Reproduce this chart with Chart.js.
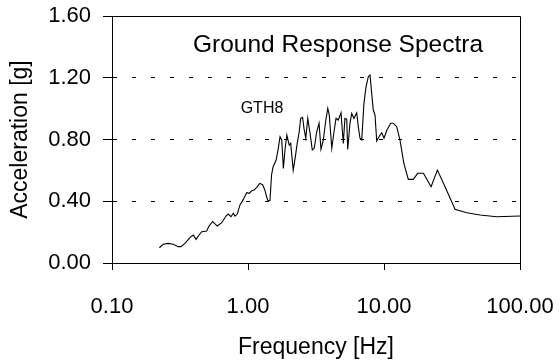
<!DOCTYPE html>
<html>
<head>
<meta charset="utf-8">
<script src="https://cdn.jsdelivr.net/npm/chart.js@4"></script>
<style>
  html,body{margin:0;padding:0;background:#fff;}
  #wrap{width:560px;height:364px;}
</style>
</head>
<body>
<div id="wrap"><canvas id="spectra"></canvas></div>
<script>
// Ground response spectra, record GTH8
const freqHz=[0.223,0.238,0.259,0.282,0.307,0.321,0.344,0.375,0.396,0.415,0.431,0.457,0.497,0.517,0.550,0.572,0.594,0.641,0.689,0.716,0.750,0.780,0.802,0.834,0.873,0.924,0.978,1.02,1.065,1.11,1.16,1.22,1.28,1.33,1.37,1.40,1.45,1.49,1.53,1.61,1.67,1.72,1.77,1.82,1.87,1.93,2.01,2.06,2.15,2.22,2.30,2.38,2.44,2.52,2.58,2.66,2.75,2.86,2.97,3.07,3.20,3.33,3.44,3.58,3.72,3.86,3.96,4.13,4.29,4.44,4.61,4.83,5.02,5.16,5.32,5.41,5.62,5.79,6.01,6.30,6.47,6.66,6.86,7.12,7.38,7.67,7.89,8.12,8.34,8.59,8.84,9.19,9.62,10.0,10.5,11.2,11.7,12.4,13.1,14.0,15.1,16.4,17.7,19.5,22.2,24.7,28.1,33.3,40.6,50.8,67.4,100];
const accelG=[0.099,0.121,0.127,0.121,0.106,0.106,0.127,0.166,0.181,0.153,0.175,0.203,0.207,0.240,0.268,0.253,0.240,0.261,0.304,0.317,0.300,0.322,0.304,0.317,0.376,0.412,0.455,0.451,0.468,0.473,0.490,0.516,0.507,0.473,0.429,0.403,0.403,0.57,0.624,0.667,0.743,0.818,0.797,0.613,0.732,0.829,0.764,0.775,0.602,0.678,0.775,0.850,0.937,0.943,0.872,0.808,0.937,0.840,0.732,0.743,0.850,0.905,0.736,0.797,0.915,1.002,0.958,0.743,0.850,0.937,0.926,0.973,0.775,0.937,0.930,0.736,0.905,0.969,0.937,0.973,0.883,0.808,0.797,1.034,1.142,1.207,1.218,1.099,0.991,0.958,0.790,0.818,0.844,0.808,0.861,0.905,0.905,0.883,0.797,0.646,0.542,0.542,0.581,0.581,0.494,0.602,0.494,0.348,0.326,0.311,0.300,0.304];
const xTicks=[0.1,1,10,100];
const yTicks=[0,0.4,0.8,1.2,1.6];

const FONT="'Liberation Sans', Arial, sans-serif";

// frame + text labels inside the plot
const extras={
  id:'extras',
  afterDraw(chart){
    const c=chart.ctx, a=chart.chartArea;
    c.save();
    c.strokeStyle='#000'; c.lineWidth=1;
    c.beginPath();
    c.moveTo(a.left,a.top+0.5); c.lineTo(a.right+0.5,a.top+0.5); c.lineTo(a.right+0.5,a.bottom);
    c.stroke();
    c.fillStyle='#000'; c.textBaseline='middle'; c.textAlign='center';
    c.font='24.5px '+FONT;
    c.fillText('Ground Response Spectra',338,45);
    c.font='16px '+FONT;
    c.fillText('GTH8',262,109);
    c.restore();
  }
};

new Chart(document.getElementById('spectra'),{
  type:'line',
  data:{datasets:[{
    data:freqHz.map((f,i)=>({x:f,y:accelG[i]})),
    borderColor:'#000', borderWidth:1.1, pointRadius:0, tension:0, fill:false
  }]},
  options:{
    responsive:true, maintainAspectRatio:false, animation:false,
    layout:{padding:{left:0,right:40,top:16,bottom:0}},
    plugins:{legend:{display:false},tooltip:{enabled:false}},
    scales:{
      x:{
        type:'logarithmic', min:0.1, max:100,
        afterBuildTicks:s=>{ s.ticks=xTicks.map(v=>({value:v})); },
        afterFit:s=>{ s.height=101; s.paddingLeft=0; s.paddingRight=0; },
        grid:{drawOnChartArea:false, tickLength:7, color:'#000', tickBorderDash:[]},
        border:{color:'#000', width:1},
        ticks:{color:'#000', font:{family:FONT,size:22}, padding:24, maxRotation:0, callback:v=>Number(v).toFixed(2)},
        title:{display:true, text:'Frequency [Hz]', color:'#000', font:{family:FONT,size:23}, padding:{top:0,bottom:3}}
      },
      y:{
        min:0, max:1.6,
        afterBuildTicks:s=>{ s.ticks=yTicks.map(v=>({value:v})); },
        afterFit:s=>{ s.width=112; s.paddingTop=0; s.paddingBottom=0; },
        grid:{color:'#000', lineWidth:1, tickLength:9, tickBorderDash:[]},
        border:{color:'#000', width:1, dash:[4,15]},
        ticks:{color:'#000', font:{family:FONT,size:22}, padding:12, callback:v=>Number(v).toFixed(2)},
        title:{display:true, text:'Acceleration [g]', color:'#000', font:{family:FONT,size:23}, padding:{top:7,bottom:0}}
      }
    }
  },
  plugins:[extras]
});
</script>
</body>
</html>
